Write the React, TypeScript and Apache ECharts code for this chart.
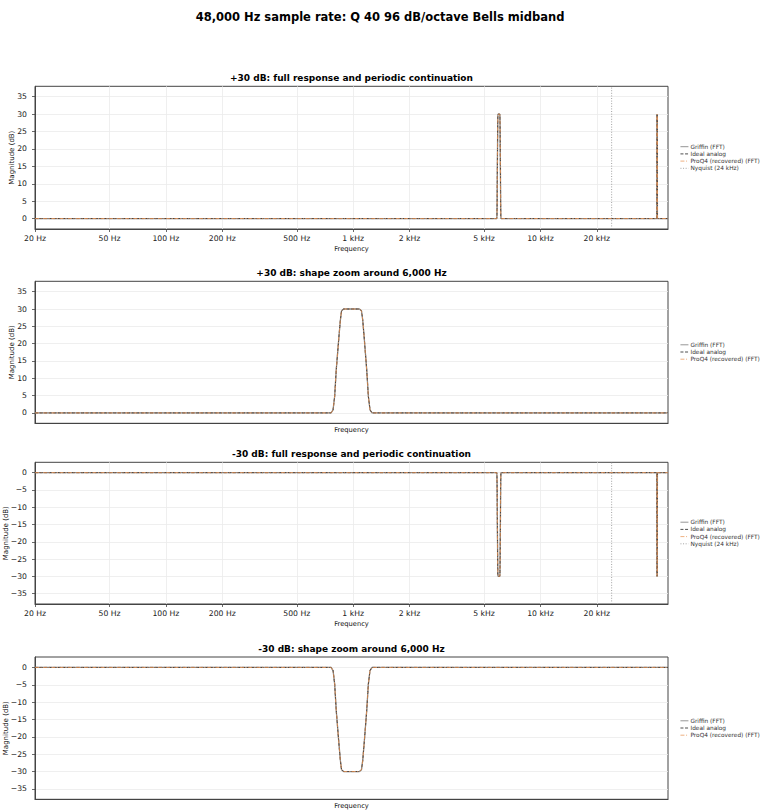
import { useEffect, useRef } from 'react';
import * as echarts from 'echarts';

// tick positions and labels
const tickFreqsHz = [20, 50, 100, 200, 500, 1000, 2000, 5000, 10000, 20000];
const boostTicksDb = [0, 5, 10, 15, 20, 25, 30, 35];
const cutTicksDb = [-35, -30, -25, -20, -15, -10, -5, 0];
const nyquistHz = 24000;

// full response 20 Hz .. 48 kHz, bell at 6 kHz and its image at 42 kHz
const fullFreqHz = [
  20, 5845, 5860, 5872, 5884, 5902, 5915, 5924, 5940, 6000, 6061, 6077, 6087, 6100, 6118, 6131, 6144, 6160,
  41840, 41856, 41869, 41882, 41900, 41913, 41923, 41939, 42000, 42060, 42076, 42085, 42098, 42116, 42128, 42140, 42155,
  48000,
];
const fullBoostDb = [
  0, 0, 0.9, 4.8, 12.5, 21, 26.8, 29.5, 30, 30, 30, 29.5, 26.8, 21, 12.5, 4.8, 0.9, 0,
  0, 0.9, 4.8, 12.5, 21, 26.8, 29.5, 30, 30, 30, 29.5, 26.8, 21, 12.5, 4.8, 0.9, 0,
  0,
];
const fullCutDb = [
  0, 0, -0.9, -4.8, -12.5, -21, -26.8, -29.5, -30, -30, -30, -29.5, -26.8, -21, -12.5, -4.8, -0.9, 0,
  0, -0.9, -4.8, -12.5, -21, -26.8, -29.5, -30, -30, -30, -29.5, -26.8, -21, -12.5, -4.8, -0.9, 0,
  0,
];

// shape zoom 4 kHz .. 9 kHz
const shapeFreqHz = [4000, 5845, 5860, 5872, 5884, 5902, 5915, 5924, 5940, 6000, 6061, 6077, 6087, 6100, 6118, 6131, 6144, 6160, 9000];
const shapeBoostDb = [0, 0, 0.9, 4.8, 12.5, 21, 26.8, 29.5, 30, 30, 30, 29.5, 26.8, 21, 12.5, 4.8, 0.9, 0, 0];
const shapeCutDb = [0, 0, -0.9, -4.8, -12.5, -21, -26.8, -29.5, -30, -30, -30, -29.5, -26.8, -21, -12.5, -4.8, -0.9, 0, 0];

const FONT = 'DejaVu Sans';
const GRID_LEFT = 35;
const GRID_W = 633;
const GRID_TOPS = [86.3, 281.3, 462.3, 657];
const GRID_HS = [142.7, 142, 141.7, 142.3];
const LEGEND_TOPS = [143.2, 341.3, 518.7, 717.3];

const panels = [
  { title: '+30 dB: full response and periodic continuation', full: true, freqs: fullFreqHz, db: fullBoostDb, yMin: -3, yMax: 38, ticks: boostTicksDb },
  { title: '+30 dB: shape zoom around 6,000 Hz', full: false, freqs: shapeFreqHz, db: shapeBoostDb, yMin: -3, yMax: 38, ticks: boostTicksDb },
  { title: '-30 dB: full response and periodic continuation', full: true, freqs: fullFreqHz, db: fullCutDb, yMin: -38, yMax: 3, ticks: cutTicksDb },
  { title: '-30 dB: shape zoom around 6,000 Hz', full: false, freqs: shapeFreqHz, db: shapeCutDb, yMin: -38, yMax: 3, ticks: cutTicksDb },
];

const fmtHz = (v: number) => {
  const f = Math.round(Math.pow(10, v));
  return f >= 1000 ? `${f / 1000} kHz` : `${f} Hz`;
};

export default function App() {
  const chartRef = useRef<HTMLDivElement>(null);

  useEffect(() => {
    document.body.style.margin = '0';
    if (!chartRef.current) return;
    const chart = echarts.init(chartRef.current, undefined, { renderer: 'svg' });

    const grid: any[] = [];
    const xAxis: any[] = [];
    const yAxis: any[] = [];
    const series: any[] = [];
    const legend: any[] = [];
    const graphic: any[] = [
      {
        type: 'text',
        x: 380,
        y: 17,
        style: { text: '48,000 Hz sample rate: Q 40 96 dB/octave Bells midband', font: `bold 11.5px "${FONT}"`, fill: '#000', textAlign: 'center', textVerticalAlign: 'middle' },
      },
    ];

    panels.forEach((p, i) => {
      grid.push({
        left: GRID_LEFT,
        top: GRID_TOPS[i],
        width: GRID_W,
        height: GRID_HS[i],
        outerBoundsMode: 'none',
        containLabel: false,
        show: true,
        borderColor: '#444',
        borderWidth: 1,
        backgroundColor: '#fff',
      });
      graphic.push({
        type: 'text',
        x: GRID_LEFT + GRID_W / 2,
        y: GRID_TOPS[i] - 8,
        style: { text: p.title, font: `bold 9px "${FONT}"`, fill: '#000', textAlign: 'center', textVerticalAlign: 'middle' },
      });

      const xMin = p.full ? Math.log10(20) : Math.log10(4000);
      const xMax = p.full ? Math.log10(48000) : Math.log10(9000);
      const tickVals = tickFreqsHz.map((f) => Math.log10(f));
      xAxis.push({
        type: 'value',
        gridIndex: i,
        min: xMin,
        max: xMax,
        name: 'Frequency',
        nameLocation: 'middle',
        nameGap: p.full ? 16.5 : 3.5,
        nameMoveOverlap: false,
        nameTextStyle: { fontFamily: FONT, fontSize: 6.7, color: '#111' },
        axisLine: { show: true, onZero: false, lineStyle: { color: '#444', width: 1 } },
        axisTick: p.full
          ? { show: true, length: 3, lineStyle: { color: '#444', width: 0.8 }, customValues: tickVals }
          : { show: false },
        axisLabel: p.full
          ? { show: true, fontFamily: FONT, fontSize: 7.7, color: '#222', margin: 5, customValues: tickVals, formatter: fmtHz }
          : { show: false },
        splitLine: { show: p.full, lineStyle: { color: '#ebebeb', width: 0.8 } },
      });
      yAxis.push({
        type: 'value',
        gridIndex: i,
        min: p.yMin,
        max: p.yMax,
        name: 'Magnitude (dB)',
        nameLocation: 'middle',
        nameGap: p.yMin < -10 ? 26 : 20,
        nameMoveOverlap: false,
        nameTextStyle: { fontFamily: FONT, fontSize: 7, color: '#111' },
        axisLine: { show: true, lineStyle: { color: '#444', width: 1 } },
        axisTick: { show: true, length: 3, lineStyle: { color: '#444', width: 0.8 }, customValues: p.ticks },
        axisLabel: {
          fontFamily: FONT,
          fontSize: 7.7,
          color: '#222',
          margin: 8,
          customValues: p.ticks,
          formatter: (v: number) => String(v).replace('-', '\u2212'),
        },
        splitLine: { show: true, lineStyle: { color: '#ebebeb', width: 0.8 } },
      });

      const pts = p.freqs.map((f, k) => [Math.log10(f), p.db[k]]);
      series.push(
        {
          type: 'line',
          name: 'Griffin (FFT)',
          xAxisIndex: i,
          yAxisIndex: i,
          data: pts,
          symbol: 'none',
          silent: true,
          z: 2,
          itemStyle: { color: '#8a8a8a' },
          lineStyle: { color: '#8a8a8a', width: 1.3 },
        },
        {
          type: 'line',
          name: 'Ideal analog',
          xAxisIndex: i,
          yAxisIndex: i,
          data: pts,
          symbol: 'none',
          silent: true,
          z: 3,
          itemStyle: { color: '#3a3a3a' },
          lineStyle: { color: '#3a3a3a', width: 0.9, type: [3, 1.6] },
        },
        {
          type: 'line',
          name: 'ProQ4 (recovered) (FFT)',
          xAxisIndex: i,
          yAxisIndex: i,
          data: pts,
          symbol: 'none',
          silent: true,
          z: 4,
          itemStyle: { color: 'rgba(232,145,80,0.8)' },
          lineStyle: { color: 'rgba(232,145,80,0.8)', width: 1, type: [4, 1.6, 1, 1.6] },
        },
      );
      if (p.full) {
        series.push({
          type: 'line',
          name: 'Nyquist (24 kHz)',
          xAxisIndex: i,
          yAxisIndex: i,
          data: [
            [Math.log10(nyquistHz), p.yMin],
            [Math.log10(nyquistHz), p.yMax],
          ],
          symbol: 'none',
          silent: true,
          z: 1,
          itemStyle: { color: '#999' },
          lineStyle: { color: '#999', width: 0.9, type: [1, 1.6] },
        });
      }

      legend.push({
        orient: 'vertical',
        left: 680,
        top: LEGEND_TOPS[i],
        itemWidth: 8,
        itemHeight: 7,
        itemGap: 0.2,
        padding: 0,
        selectedMode: false,
        itemStyle: { opacity: 0 },
        lineStyle: { width: 0.9 },
        data: p.full
          ? ['Griffin (FFT)', 'Ideal analog', 'ProQ4 (recovered) (FFT)', 'Nyquist (24 kHz)']
          : ['Griffin (FFT)', 'Ideal analog', 'ProQ4 (recovered) (FFT)'],
        textStyle: { fontFamily: FONT, fontSize: 5.8, lineHeight: 7, color: '#333', padding: [0, 0, 0, -3] },
      });
    });

    chart.setOption({
      animation: false,
      backgroundColor: '#fff',
      textStyle: { fontFamily: FONT },
      grid,
      xAxis,
      yAxis,
      series,
      legend,
      graphic,
    });

    return () => {
      chart.dispose();
    };
  }, []);

  return <div ref={chartRef} style={{ width: '760px', height: '812px' }} />;
}
